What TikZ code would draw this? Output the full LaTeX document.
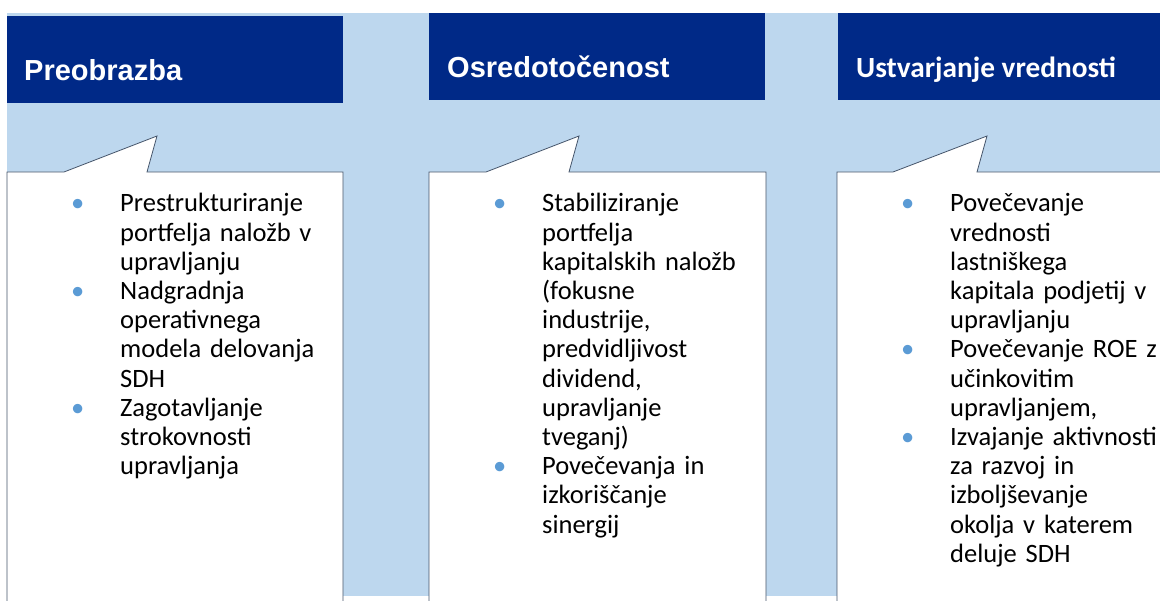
\documentclass[tikz,border=0pt]{standalone}
\usepackage{fontspec}
\setmainfont{Carlito}
\newfontfamily\headfont{Liberation Sans}

\definecolor{headblue}{RGB}{0,41,135}
\definecolor{paleblue}{RGB}{189,215,238}
\definecolor{edgegray}{RGB}{68,84,106}
\definecolor{dotblue}{RGB}{91,155,213}

\newcommand{\bpoint}{\hangindent=49pt\hangafter=1\noindent\makebox[49pt][l]{\textcolor{dotblue}{•}}}

\tikzset{
  title/.style={anchor=base west, inner sep=0pt, text=white, font=\headfont\bfseries\fontsize{29}{34}\selectfont},
  calloutbox/.style={fill=white, draw=edgegray, line width=0.8pt},
  body/.style={anchor=base west, inner sep=0pt, text width=300pt, font=\fontsize{26.5}{29.2}\selectfont, execute at begin node=\raggedright}
}

\begin{document}
\begin{tikzpicture}[x=1pt, y=-1pt]
\useasboundingbox (0,0) rectangle (1160,601);
\fill [paleblue] (7,13) rectangle (1160,596);

\fill [headblue] (7,16) rectangle (343,103);
\node [title] (0) at (24,81) {Preobrazba};
\filldraw [calloutbox] (7,612) -- (7,172) -- (64,172) -- (157,136) -- (147,172) -- (343,172) -- (343,612);
\node [body] (1) at (71,212) {%
\bpoint Prestrukturiranje\newline portfelja naložb v\newline upravljanju\par
\bpoint Nadgradnja\newline operativnega\newline modela delovanja\newline SDH\par
\bpoint Zagotavljanje\newline strokovnosti\newline upravljanja\par};

\newcommand{\shiftMid}{422}

\fill [headblue] (\shiftMid+7,13) rectangle (\shiftMid+343,100);
\node [title] (2) at (\shiftMid+25,78) {Osredotočenost};
\filldraw [calloutbox] (\shiftMid+7,612) -- (\shiftMid+7,172) -- (\shiftMid+64,172) -- (\shiftMid+157,136) -- (\shiftMid+147,172) -- (\shiftMid+344,172) -- (\shiftMid+344,612);
\node [body] (3) at (\shiftMid+71,212) {%
\bpoint Stabiliziranje\newline portfelja\newline kapitalskih naložb\newline (fokusne\newline industrije,\newline predvidljivost\newline dividend,\newline upravljanje\newline tveganj)\par
\bpoint Povečevanja in\newline izkoriščanje\newline sinergij\par};

\newcommand{\shiftRight}{830}

\fill [headblue] (\shiftRight+8,13) rectangle (1160,100);
\node [title, font=\bfseries\fontsize{29.3}{34}\selectfont] (4) at (\shiftRight+26,78) {Ustvarjanje vrednosti};
\filldraw [calloutbox] (\shiftRight+7,612) -- (\shiftRight+7,172) -- (\shiftRight+63,172) -- (\shiftRight+157,136) -- (\shiftRight+147,172) -- (1180,172) -- (1180,612) -- cycle;
\node [body] (5) at (\shiftRight+71,212) {%
\bpoint Povečevanje\newline vrednosti\newline lastniškega\newline kapitala podjetij v\newline upravljanju\par
\bpoint Povečevanje ROE z\newline učinkovitim\newline upravljanjem,\par
\bpoint Izvajanje aktivnosti\newline za razvoj in\newline izboljševanje\newline okolja v katerem\newline deluje SDH\par};
\end{tikzpicture}
\end{document}
